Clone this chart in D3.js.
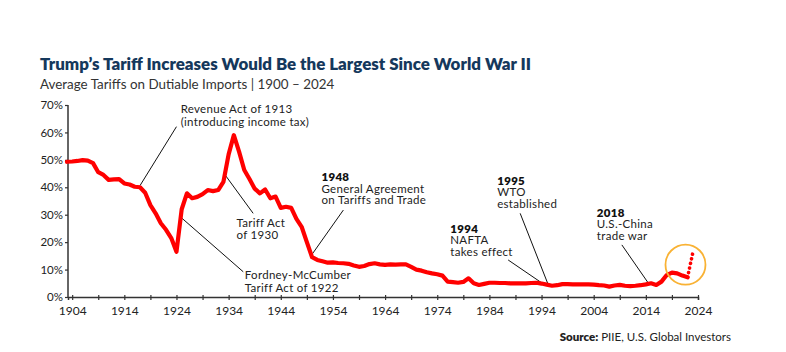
<!DOCTYPE html>
<html><head><meta charset="utf-8">
<script src="https://cdn.jsdelivr.net/npm/d3@7"></script>
<style>
html,body{margin:0;padding:0;background:#fff;}
svg text{font-family:"Lato","Liberation Sans",Arial,sans-serif;}
</style></head>
<body><svg id="c" width="786" height="352"></svg>
<script>
const years = d3.range(1903, 2023);
const tariffs = [
49.3,49.4,49.6,49.9,49.7,48.8,45.5,44.5,42.7,42.9,
43.0,41.4,41.0,40.2,40.0,38.0,33.5,30.5,26.9,24.5,
21.5,16.5,32.0,37.8,36.0,36.5,37.5,39.0,38.6,39.0,
42.0,52.0,59.0,53.0,46.3,43.0,39.5,37.8,39.2,36.0,
36.6,32.5,32.9,32.5,28.5,25.6,20.0,14.5,13.5,13.0,
12.5,12.6,12.4,12.3,12.1,11.5,11.0,11.3,12.0,12.3,
11.9,11.7,11.9,11.8,11.9,11.9,11.0,10.0,9.6,9.0,
8.6,8.3,7.8,5.6,5.4,5.2,5.5,6.8,5.0,4.4,
4.8,5.2,5.2,5.1,5.1,5.0,5.0,5.0,5.0,5.1,
5.2,4.9,4.5,4.1,4.3,4.7,4.7,4.6,4.6,4.6,
4.6,4.5,4.3,4.2,3.8,4.2,4.4,4.1,4.0,4.1,
4.3,4.6,5.0,4.4,5.6,8.0,8.9,8.6,7.8,7.2];
const projYears = [2022, 2023];
const projValues = [7.2, 16.1];
const xTickLabels = [1904,1914,1924,1934,1944,1954,1964,1974,1984,1994,2004,2014,2024];
const yTicks = [0,10,20,30,40,50,60,70];

const titleText = "Trump\u2019s Tariff Increases Would Be the Largest Since World War II";
const subtitleText = "Average Tariffs on Dutiable Imports | 1900 \u2013 2024";

const annLabels = [
  {lines:["Revenue Act of 1913","(introducing income tax)"], bold:false},
  {lines:["Tariff Act","of 1930"], bold:false},
  {lines:["Fordney-McCumber","Tariff Act of 1922"], bold:false},
  {lines:["1948","General Agreement","on Tariffs and Trade"], bold:true},
  {lines:["1994","NAFTA","takes effect"], bold:true},
  {lines:["1995","WTO","established"], bold:true},
  {lines:["2018","U.S.-China","trade war"], bold:true}
];
const annTextPos = [[1924.8,67.0],[1935.5,25.4],[1937.1,6.6],[1951.8,42.2],[1976.5,23.4],[1985.5,41.0],[2004.6,29.3]];
const annLineHeights = [13,11.5,13,11.5,11.5,11.5,11.5];
const annLeaders = [
  [[1917.0,40.6],[1924.0,62.1]],
  [[1933.1,45.1],[1938.7,30.5]],
  [[1924.7,29.3],[1936.8,9.2]],
  [[1949.9,15.3],[1956.0,31.7]],
  [[1987.6,13.5],[1994.0,5.2]],
  [[1989.9,30.5],[1995.3,4.4]],
  [[2009.4,19.0],[2014.5,5.0]]
];

const svg = d3.select("#c");
const x = d3.scaleLinear().domain([1903.2, 2024]).range([68, 698]);
const y = d3.scaleLinear().domain([0, 70]).range([297, 105]);

svg.append("text").attr("x",40).attr("y",70)
  .attr("font-size",16.9).attr("font-weight",800).attr("fill","#15385c")
  .text(titleText);
svg.append("text").attr("x",40).attr("y",88.5)
  .attr("font-size",13.4).attr("fill","#333")
  .text(subtitleText);

const xAxis = d3.axisBottom(x).tickValues(d3.range(1904,2025,5))
  .tickSize(3).tickPadding(6.5)
  .tickFormat(d => xTickLabels.includes(d) ? d : "");
const gx = svg.append("g").attr("transform","translate(0,297)").call(xAxis);
gx.select(".domain").attr("stroke","#333").attr("stroke-width",1.5);
gx.selectAll(".tick line").attr("stroke","#333").attr("stroke-width",1.2).attr("y1",-2);
gx.selectAll("text").attr("font-size",12).attr("fill","#222");

const yAxis = d3.axisLeft(y).tickValues(yTicks).tickSize(3).tickPadding(2)
  .tickFormat(d => d + "%");
const gy = svg.append("g").attr("transform","translate(68,0)").call(yAxis);
gy.select(".domain").attr("stroke","#333").attr("stroke-width",1.5).attr("d","M0,297V105");
gy.selectAll(".tick line").attr("stroke","#333").attr("stroke-width",1.2);
gy.selectAll("text").attr("font-size",11.5).attr("fill","#222");

annLeaders.forEach(l => {
  svg.append("line")
    .attr("x1",x(l[0][0])).attr("y1",y(l[0][1]))
    .attr("x2",x(l[1][0])).attr("y2",y(l[1][1]))
    .attr("stroke","#111").attr("stroke-width",1);
});

const line = d3.line().x(d=>x(d[0])).y(d=>y(d[1]));
const pts = years.map((yr,i)=>[yr,tariffs[i]]);
svg.append("path").datum(pts).attr("d",line)
  .attr("fill","none").attr("stroke","#ff0000").attr("stroke-width",4.2)
  .attr("stroke-linejoin","round").attr("stroke-linecap","round");

svg.append("path").datum(projYears.map((yr,i)=>[yr,projValues[i]])).attr("d",line)
  .attr("fill","none").attr("stroke","#ff0000").attr("stroke-width",3.6)
  .attr("stroke-dasharray","0.1 4.6").attr("stroke-linecap","round");

svg.append("circle").attr("cx",x(2021.6)).attr("cy",y(11.8)).attr("r",20)
  .attr("fill","none").attr("stroke","#f9b234").attr("stroke-width",1.8);

annLabels.forEach((a,i) => {
  const x0 = x(annTextPos[i][0]), y0 = y(annTextPos[i][1]);
  a.lines.forEach((ln,j) => {
    svg.append("text").attr("x",x0).attr("y",y0 + j*annLineHeights[i])
      .attr("font-size",11.5).attr("letter-spacing",0.3)
      .attr("font-weight", a.bold && j===0 ? 800 : 400)
      .attr("fill", a.bold && j===0 ? "#111" : "#222")
      .text(ln);
  });
});

const src = svg.append("text").attr("x",731).attr("y",340.5).attr("text-anchor","end")
  .attr("font-size",11.5).attr("fill","#222");
src.append("tspan").attr("font-weight",800).text("Source:");
src.append("tspan").text(" PIIE, U.S. Global Investors");
</script>
</body></html>
